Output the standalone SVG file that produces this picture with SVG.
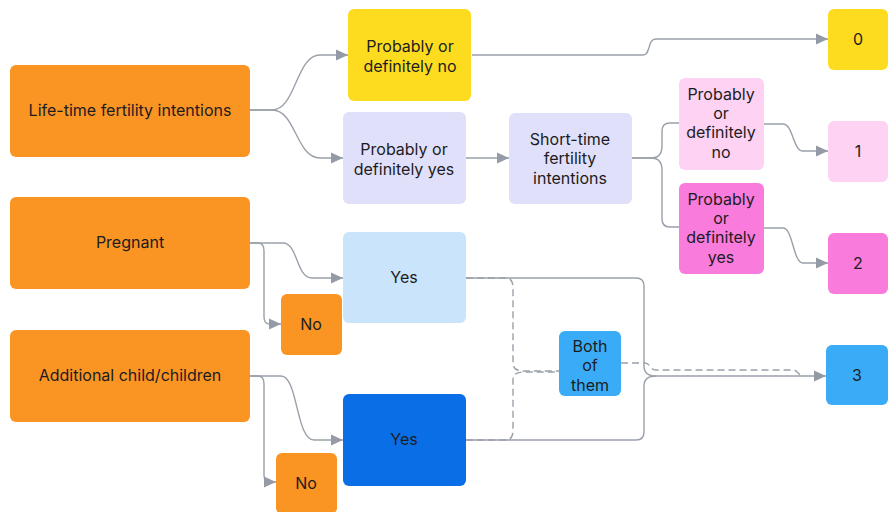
<svg xmlns="http://www.w3.org/2000/svg" width="888" height="512" viewBox="0 0 888 512">
<defs>
<marker id="arr" markerWidth="12" markerHeight="12" refX="12" refY="6" orient="auto" markerUnits="userSpaceOnUse">
<path d="M0,0.5 L12,6 L0,11.5 Z" fill="#959BA6"/>
</marker>
<style>
.n rect{rx:6;ry:6}
.t{font-family:Inter,"Liberation Sans",sans-serif;font-size:16px;fill:#1c1c22;text-anchor:middle}
.c path{fill:none;stroke:#9AA0AA;stroke-width:1.4}
.c .d{stroke-dasharray:7 4}
.c .a{marker-end:url(#arr)}
.or{fill:#FA9422}.ye{fill:#FDDC1F}.lv{fill:#E1E0FA}.pp{fill:#FDD2F3}.pk{fill:#F97BDC}.lb{fill:#C9E4FB}.db{fill:#0A6FE6}.bl{fill:#3AACF7}
</style>
</defs>
<rect width="888" height="512" fill="#FFFFFF"/>
<g class="c" id="connectors">
<path class="a" d="M250,110 H272 C296,110 296,55 320,55 H348"/>
<path class="a" d="M250,110 H272 C296,110 296,158 320,158 H343"/>
<path class="a" d="M472,55 H643 C651,55 647,39 656,39 H828"/>
<path class="a" d="M465,158 H509"/>
<path d="M632,158 H651 C658,158 662,154 662,146 V131 C662,126 665,123 670,123 H679"/>
<path d="M632,158 H651 C658,158 662,162 662,170 V219 C662,224 665,227 670,227 H679"/>
<path class="a" d="M764,124 H783 C793,124 793,151 803,151 H828"/>
<path class="a" d="M764,228 H783 C793,228 793,263 803,263 H828"/>
<path class="a" d="M250,243 H283 C298,243 296,278 312,278 H343"/>
<path class="a" d="M250,243 H258 C262,243 264,246 264,251 V317 C264,322 266,324 270,324 H281"/>
<path class="a" d="M250,376 H281 C298,376 296,440 314,440 H343"/>
<path class="a" d="M250,376 H258 C262,376 264,379 264,384 V475 C264,480 266,482 270,482 H276"/>
<path class="a" d="M466,278 H636 C641,278 644,281 644,286 V366 C644,372 648,376 656,376 H826"/>
<path d="M466,440 H636 C641,440 644,437 644,432 V386 C644,380 648,376 656,376"/>
<path class="d" d="M466,278 H506 C511,278 513,282 513,288 V363 C513,369 517,371 524,371 H559"/>
<path class="d" d="M466,440 H506 C511,440 513,436 513,430 V380 C513,374 517,372 524,372 H559"/>
<path class="d" d="M621,363 H645 C650,363 650,370 656,370 H793 C798,370 798,376 804,376"/>
</g>
<g class="n" id="n-lifetime"><rect class="or" x="10" y="65" width="240" height="92"/><text class="t" x="130" y="116">Life-time fertility intentions</text></g>
<g class="n" id="n-lt-no"><rect class="ye" x="348" y="9" width="123" height="92"/><text class="t" x="410" y="52">Probably or</text><text class="t" x="410" y="72">definitely no</text></g>
<g class="n" id="n-lt-yes"><rect class="lv" x="343" y="112" width="123" height="92"/><text class="t" x="404" y="155">Probably or</text><text class="t" x="404" y="175">definitely yes</text></g>
<g class="n" id="n-short"><rect class="lv" x="509" y="113" width="123" height="91"/><text class="t" x="570" y="145">Short-time</text><text class="t" x="570" y="164">fertility</text><text class="t" x="570" y="184">intentions</text></g>
<g class="n" id="n-st-no"><rect class="pp" x="679" y="78" width="85" height="92"/><text class="t" x="721" y="100">Probably</text><text class="t" x="721" y="119">or</text><text class="t" x="721" y="138">definitely</text><text class="t" x="721" y="158">no</text></g>
<g class="n" id="n-st-yes"><rect class="pk" x="679" y="183" width="85" height="91"/><text class="t" x="721" y="205">Probably</text><text class="t" x="721" y="224">or</text><text class="t" x="721" y="243">definitely</text><text class="t" x="721" y="263">yes</text></g>
<g class="n" id="n-0"><rect class="ye" x="828" y="9" width="60" height="61"/><text class="t" x="858" y="45">0</text></g>
<g class="n" id="n-1"><rect class="pp" x="828" y="121" width="60" height="61"/><text class="t" x="858" y="157">1</text></g>
<g class="n" id="n-2"><rect class="pk" x="828" y="233" width="60" height="61"/><text class="t" x="858" y="269">2</text></g>
<g class="n" id="n-3"><rect class="bl" x="826" y="345" width="62" height="60"/><text class="t" x="857" y="381">3</text></g>
<g class="n" id="n-pregnant"><rect class="or" x="10" y="197" width="240" height="92"/><text class="t" x="130" y="248">Pregnant</text></g>
<g class="n" id="n-preg-no"><rect class="or" x="281" y="294" width="61" height="61"/><text class="t" x="311" y="330">No</text></g>
<g class="n" id="n-preg-yes"><rect class="lb" x="343" y="232" width="123" height="91"/><text class="t" x="404" y="283">Yes</text></g>
<g class="n" id="n-additional"><rect class="or" x="10" y="330" width="240" height="92"/><text class="t" x="130" y="381">Additional child/children</text></g>
<g class="n" id="n-add-no"><rect class="or" x="276" y="453" width="61" height="61"/><text class="t" x="306" y="489">No</text></g>
<g class="n" id="n-add-yes"><rect class="db" x="343" y="394" width="123" height="92"/><text class="t" x="404" y="445">Yes</text></g>
<g class="n" id="n-both"><rect class="bl" x="559" y="331" width="62" height="65"/><text class="t" x="590" y="352">Both</text><text class="t" x="590" y="371">of</text><text class="t" x="590" y="391">them</text></g>
</svg>
